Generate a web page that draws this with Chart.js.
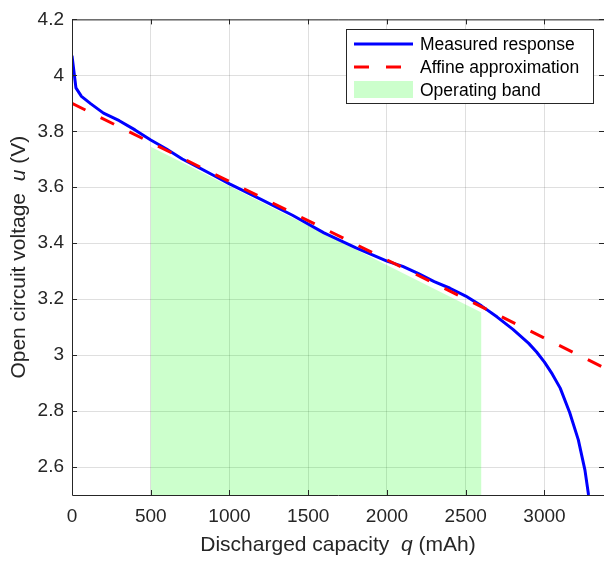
<!DOCTYPE html>
<html>
<head>
<meta charset="utf-8">
<script src="https://cdn.jsdelivr.net/npm/chart.js@4.4.1/dist/chart.umd.min.js"></script>
<style>
  html, body { margin: 0; padding: 0; background: #fff; }
  canvas { display: block; }
</style>
</head>
<body>
<canvas id="ocv_chart" width="604" height="561"></canvas>
<script>
// measured open circuit voltage vs discharged capacity
const measured_q = [0, 25, 60, 120, 200, 300, 400, 500, 600, 700, 800, 900, 1000, 1200, 1400, 1600,
	1800, 2000, 2100, 2200, 2300, 2400, 2500, 2600, 2700, 2800, 2900, 2950, 3000, 3050, 3100, 3160, 3215, 3257, 3280];
const measured_u = [4.07, 3.955, 3.925, 3.898, 3.865, 3.838, 3.805, 3.769, 3.737, 3.701, 3.672, 3.642, 3.612, 3.557, 3.500, 3.437,
	3.384, 3.336, 3.317, 3.291, 3.263, 3.239, 3.211, 3.176, 3.136, 3.092, 3.042, 3.011, 2.975, 2.932, 2.882, 2.795, 2.697, 2.589, 2.500];

// affine approximation, end points
const affine_q = [0, 3378];
const affine_u = [3.9, 2.955];

// operating band (shaded)
const band_q = [500, 2600];
const band_u = [3.745, 3.152];

const x_ticks = [0, 500, 1000, 1500, 2000, 2500, 3000];
const y_ticks = [2.6, 2.8, 3, 3.2, 3.4, 3.6, 3.8, 4, 4.2];

const font_family = '"Liberation Sans", Arial, Helvetica, sans-serif';
const axis_color = '#262626';
const grid_color = 'rgba(38,38,38,0.15)';

function toPoints(xs, ys){
	return xs.map((x, i) => ({ x: x, y: ys[i] }));
}

// draws text made of plain / italic pieces, centred on (cx, cy)
function drawRichText(ctx, parts, size, cx, cy){
	let widths = parts.map(p => {
		ctx.font = (p[1] ? 'italic ' : '') + size + 'px ' + font_family;
		return ctx.measureText(p[0]).width;
	});
	let total = widths.reduce((a, b) => a + b, 0);
	let x = cx - total / 2;
	parts.forEach((p, i) => {
		ctx.font = (p[1] ? 'italic ' : '') + size + 'px ' + font_family;
		ctx.fillText(p[0], x, cy);
		x += widths[i];
	});
}

const frame_plugin = {
	id: 'frame',
	afterDraw(chart){
		const ctx = chart.ctx;
		const a = chart.chartArea;
		const xs = chart.scales.x, ys = chart.scales.y;
		ctx.save();

		// box round the axes
		ctx.strokeStyle = axis_color;
		ctx.lineWidth = 1;
		ctx.setLineDash([]);
		ctx.beginPath();
		ctx.moveTo(a.left + 0.5, a.top + 0.5);
		ctx.lineTo(a.right + 0.5, a.top + 0.5);
		ctx.lineTo(a.right + 0.5, a.bottom + 0.5);
		ctx.lineTo(a.left + 0.5, a.bottom + 0.5);
		ctx.closePath();
		ctx.stroke();

		// inward tick marks
		ctx.beginPath();
		x_ticks.forEach(v => {
			let px = Math.round(xs.getPixelForValue(v)) + 0.5;
			ctx.moveTo(px, a.bottom); ctx.lineTo(px, a.bottom - 5);
			ctx.moveTo(px, a.top); ctx.lineTo(px, a.top + 5);
		});
		y_ticks.forEach(v => {
			let py = Math.round(ys.getPixelForValue(v)) + 0.5;
			ctx.moveTo(a.left, py); ctx.lineTo(a.left + 5, py);
			ctx.moveTo(a.right, py); ctx.lineTo(a.right - 5, py);
		});
		ctx.stroke();

		// axis titles
		ctx.fillStyle = axis_color;
		ctx.textBaseline = 'alphabetic';
		ctx.textAlign = 'left';
		drawRichText(ctx, [['Discharged capacity  ', false], ['q', true], [' (mAh)', false]], 21, (a.left + a.right) / 2, 551);
		ctx.save();
		ctx.translate(25, (a.top + a.bottom) / 2);
		ctx.rotate(-Math.PI / 2);
		drawRichText(ctx, [['Open circuit voltage  ', false], ['u', true], [' (V)', false]], 21, 0, 0);
		ctx.restore();

		// legend box
		ctx.fillStyle = '#fff';
		ctx.fillRect(346, 29, 247, 74);
		ctx.strokeStyle = axis_color;
		ctx.strokeRect(346.5, 29.5, 247, 74);

		const sets = chart.data.datasets;
		const rows = [44, 67, 90];
		sets.forEach((ds, i) => {
			let ry = rows[i];
			if(ds.fill){
				ctx.fillStyle = ds.backgroundColor;
				ctx.fillRect(354, ry - 9, 59, 17);
			}else{
				ctx.strokeStyle = ds.borderColor;
				ctx.lineWidth = ds.borderWidth;
				ctx.setLineDash(ds.borderDash || []);
				ctx.beginPath();
				ctx.moveTo(354, ry);
				ctx.lineTo(413, ry);
				ctx.stroke();
				ctx.setLineDash([]);
			}
			ctx.fillStyle = '#000';
			ctx.font = '17.5px ' + font_family;
			ctx.textBaseline = 'middle';
			ctx.fillText(ds.label, 420, ry + 1);
		});
		ctx.restore();
	}
};

const chart = new Chart(document.getElementById('ocv_chart').getContext('2d'), {
	type: 'line',
	data: {
		datasets: [
			{
				label: 'Measured response',
				data: toPoints(measured_q, measured_u),
				borderColor: '#0000ff',
				borderWidth: 3,
				borderJoinStyle: 'round',
				pointRadius: 0,
				fill: false,
				tension: 0,
				order: 1
			},
			{
				label: 'Affine approximation',
				data: toPoints(affine_q, affine_u),
				borderColor: '#ff0000',
				borderWidth: 3,
				borderDash: [15, 17],
				pointRadius: 0,
				fill: false,
				order: 0
			},
			{
				label: 'Operating band',
				data: toPoints(band_q, band_u),
				borderColor: 'transparent',
				borderWidth: 0,
				backgroundColor: 'rgba(0,255,0,0.2)',
				pointRadius: 0,
				fill: 'start',
				order: 2
			}
		]
	},
	options: {
		responsive: false,
		animation: false,
		layout: { padding: { top: 13, right: 0, left: 0, bottom: 0 } },
		plugins: {
			legend: { display: false },
			tooltip: { enabled: false }
		},
		scales: {
			x: {
				type: 'linear',
				min: 0,
				max: 3378,
				afterBuildTicks: s => { s.ticks = x_ticks.map(v => ({ value: v })); },
				afterFit: s => { s.height = 66; },
				grid: { color: grid_color, drawTicks: false },
				border: { display: false },
				ticks: {
					padding: 10,
					color: axis_color,
					font: { family: font_family, size: 19 },
					callback: v => String(v)
				}
			},
			y: {
				type: 'linear',
				min: 2.5,
				max: 4.2,
				afterBuildTicks: s => { s.ticks = y_ticks.map(v => ({ value: v })); },
				afterFit: s => { s.width = 72; },
				grid: { color: grid_color, drawTicks: false },
				border: { display: false },
				ticks: {
					padding: 8,
					color: axis_color,
					font: { family: font_family, size: 19 },
					callback: v => String(+v.toFixed(1))
				}
			}
		}
	},
	plugins: [frame_plugin]
});
</script>
</body>
</html>
